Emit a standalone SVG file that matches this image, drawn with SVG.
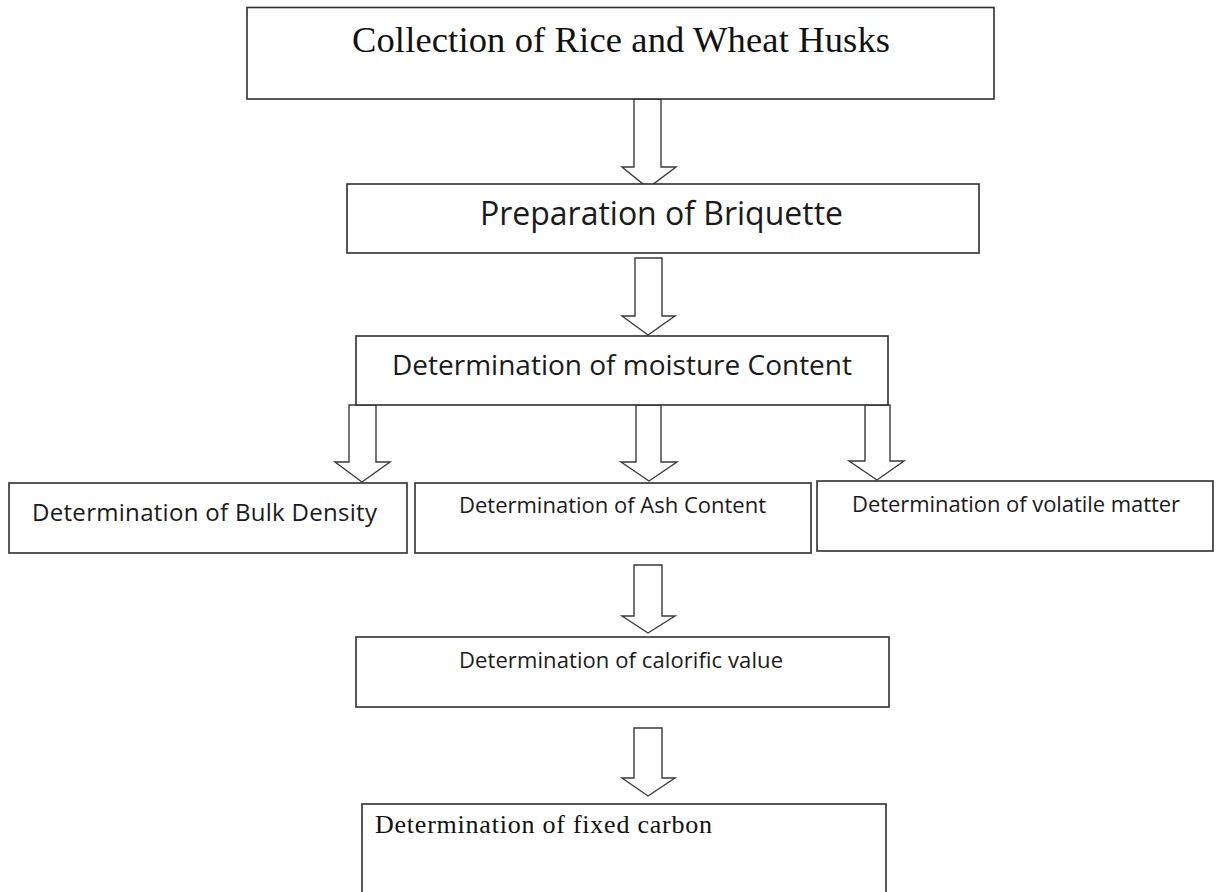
<svg xmlns="http://www.w3.org/2000/svg" width="1217" height="892" viewBox="0 0 1217 892">
<style>
.box{fill:#ffffff;stroke:#2e2e2e;stroke-width:1.6}
.arr{fill:#ffffff;stroke:#3a3a3a;stroke-width:1.4;stroke-linejoin:miter}
.serif{font-family:"Liberation Serif","Times New Roman",serif;fill:#111}
.sans{font-family:"Open Sans","Noto Sans","Liberation Sans",sans-serif;fill:#1a1a1a}
</style>
<rect width="1217" height="892" fill="#ffffff"/>
<g id="connectors">
<polygon class="arr" points="634,99 661,99 661,167 676,167 648,188 622,167 634,167"/>
<polygon class="arr" points="635,258 662,258 662,316 675,316 648,335 622,316 635,316"/>
<polygon class="arr" points="349,405 376,405 376,462 390,462 362,482 335,462 349,462"/>
<polygon class="arr" points="636,405 661,405 661,462 677,462 649,481 621,462 636,462"/>
<polygon class="arr" points="865,405 890,405 890,461 904,461 877,480 849,461 865,461"/>
<polygon class="arr" points="634,565 662,565 662,616 675,616 648,633 622,616 634,616"/>
<polygon class="arr" points="634,728 662,728 662,778 675,778 648,796 622,778 634,778"/>
</g>
<g id="node-collection">
<rect class="box" x="247" y="7.5" width="747" height="91.5" stroke-width="2"/>
<text class="serif" x="352" y="52" font-size="36.5" textLength="538">Collection of Rice and Wheat Husks</text>
</g>
<g id="node-preparation">
<rect class="box" x="347" y="184" width="632" height="69"/>
<text class="sans" x="480" y="225" font-size="32" textLength="363">Preparation of Briquette</text>
</g>
<g id="node-moisture">
<rect class="box" x="356" y="336" width="532" height="69"/>
<text class="sans" x="392" y="375" font-size="28" textLength="460">Determination of moisture Content</text>
</g>
<g id="node-bulk">
<rect class="box" x="9" y="483" width="398" height="70"/>
<text class="sans" x="32" y="521" font-size="24" textLength="345">Determination of Bulk Density</text>
</g>
<g id="node-ash">
<rect class="box" x="415" y="483" width="396" height="70"/>
<text class="sans" x="459" y="513" font-size="22" textLength="307">Determination of Ash Content</text>
</g>
<g id="node-volatile">
<rect class="box" x="817" y="481" width="396" height="70"/>
<text class="sans" x="852" y="512" font-size="22" textLength="328">Determination of volatile matter</text>
</g>
<g id="node-calorific">
<rect class="box" x="356" y="637" width="533" height="70"/>
<text class="sans" x="459" y="668" font-size="22" textLength="324">Determination of calorific value</text>
</g>
<g id="node-fixed-carbon">
<rect class="box" x="362" y="804" width="524" height="100"/>
<text class="serif" x="375" y="833" font-size="26" textLength="337">Determination of fixed carbon</text>
</g>
</svg>
